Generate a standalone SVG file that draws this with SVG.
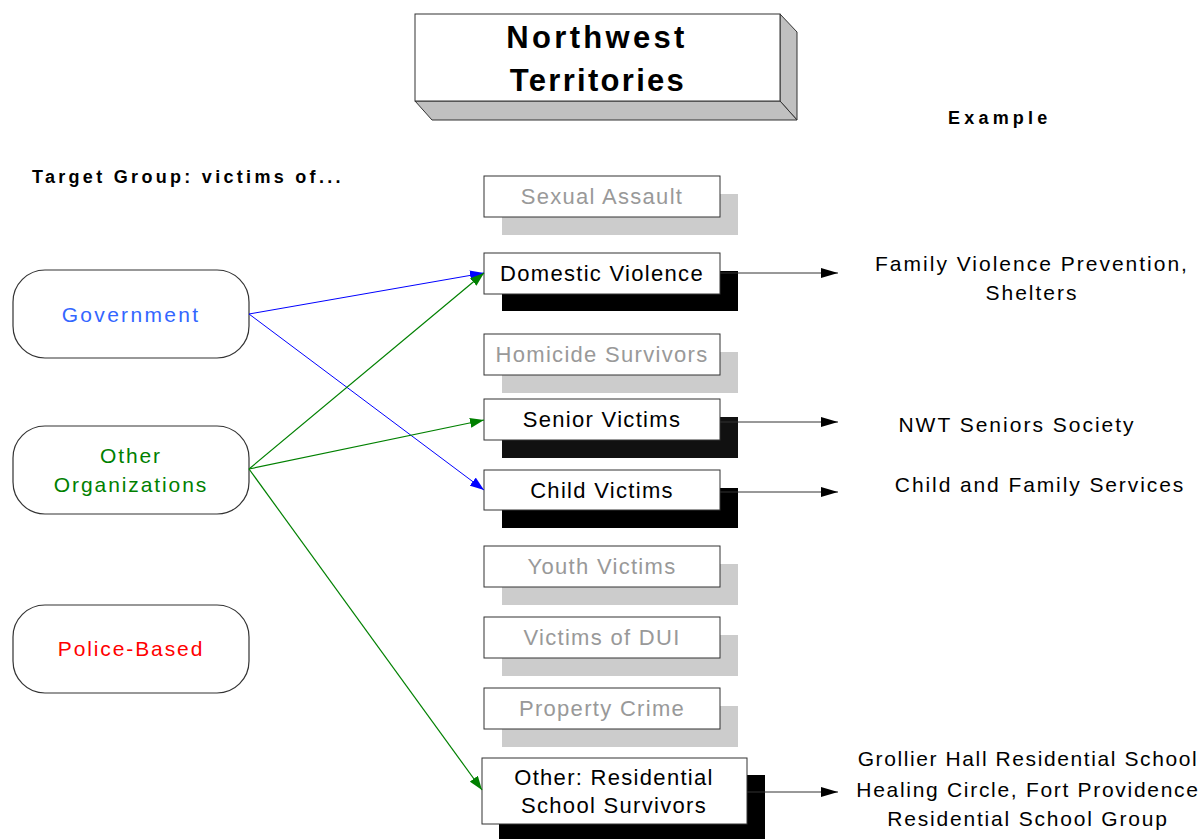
<svg xmlns="http://www.w3.org/2000/svg" width="1203" height="839" viewBox="0 0 1203 839">
  <style>
    text { font-family: "Liberation Sans", Arial, sans-serif; }
    .title { font-size: 31px; font-weight: bold; fill: #000; text-anchor: middle; }
    .head { font-size: 18px; font-weight: bold; fill: #000; letter-spacing: 3.3px; }
    .src { fill: #fff; stroke: #333; stroke-width: 1.2; }
    .srcText { font-size: 21px; text-anchor: middle; letter-spacing: 1.9px; }
    .box { fill: #fff; stroke: #333; stroke-width: 1; }
    .shGray { fill: #cccccc; }
    .shDark { fill: #000; }
    .lblGray { font-size: 22px; fill: #999; text-anchor: middle; letter-spacing: 1.3px; }
    .lbl { font-size: 22px; fill: #000; text-anchor: middle; letter-spacing: 1.3px; }
    .ex { font-size: 21px; fill: #000; text-anchor: middle; letter-spacing: 2px; }
    .blue { stroke: #0000ff; stroke-width: 1; fill: none; }
    .green { stroke: #008000; stroke-width: 1.2; fill: none; }
    .out { stroke: #333; stroke-width: 1; fill: none; }
  </style>
  <defs>
    <marker id="mBlue" viewBox="0 0 14 10" refX="14" refY="5" markerWidth="14" markerHeight="10" markerUnits="userSpaceOnUse" orient="auto">
      <path d="M0,0 L14,5 L0,10 z" fill="#0000ff"/>
    </marker>
    <marker id="mGreen" viewBox="0 0 14 10" refX="14" refY="5" markerWidth="14" markerHeight="10" markerUnits="userSpaceOnUse" orient="auto">
      <path d="M0,0 L14,5 L0,10 z" fill="#008000"/>
    </marker>
    <marker id="mBlack" viewBox="0 0 17 10" refX="17" refY="5" markerWidth="17" markerHeight="10" markerUnits="userSpaceOnUse" orient="auto">
      <path d="M0,0 L17,5 L0,10 z" fill="#000"/>
    </marker>
  </defs>
  <rect width="1203" height="839" fill="#fff"/>

  <!-- Title block (3D box) -->
  <g id="title">
    <polygon points="780,14 797,32 797,120 780,101" fill="#c0c0c0" stroke="#333" stroke-width="1"/>
    <polygon points="415,101 780,101 797,120 432,120" fill="#c0c0c0" stroke="#333" stroke-width="1"/>
    <rect x="415" y="14" width="365" height="87" fill="#fff" stroke="#333" stroke-width="1"/>
    <text class="title" x="597" y="48" style="letter-spacing:3.3px">Northwest</text>
    <text class="title" x="598" y="91" style="letter-spacing:2.3px">Territories</text>
  </g>

  <text class="head" x="32" y="183">Target Group: victims of...</text>
  <text class="head" x="948" y="124" style="letter-spacing:4.2px">Example</text>

  <!-- Source organisations -->
  <g id="government">
    <rect class="src" x="13" y="270" width="236" height="88" rx="32" ry="32"/>
    <text class="srcText" x="131" y="322" fill="#3366ff" style="letter-spacing:2.3px">Government</text>
  </g>
  <g id="other-organizations">
    <rect class="src" x="13" y="426" width="236" height="88" rx="32" ry="32"/>
    <text class="srcText" x="131" y="463" fill="#008000">Other</text>
    <text class="srcText" x="131" y="492" fill="#008000">Organizations</text>
  </g>
  <g id="police-based">
    <rect class="src" x="13" y="605" width="236" height="88" rx="32" ry="32"/>
    <text class="srcText" x="131" y="656" fill="#ff0000">Police-Based</text>
  </g>

  <!-- Target groups -->
  <g id="sexual-assault">
    <rect class="shGray" x="502" y="194" width="236" height="41"/>
    <rect class="box" x="484" y="176" width="236" height="41"/>
    <text class="lblGray" x="602" y="204">Sexual Assault</text>
  </g>
  <g id="domestic-violence">
    <rect class="shDark" x="502" y="271" width="236" height="40"/>
    <rect class="box" x="484" y="253" width="236" height="41"/>
    <text class="lbl" x="602" y="281">Domestic Violence</text>
  </g>
  <g id="homicide-survivors">
    <rect class="shGray" x="502" y="352" width="236" height="41"/>
    <rect class="box" x="484" y="334" width="236" height="41"/>
    <text class="lblGray" x="602" y="362">Homicide Survivors</text>
  </g>
  <g id="senior-victims">
    <rect x="502" y="417" width="236" height="41" fill="#111"/>
    <rect class="box" x="484" y="399" width="236" height="41"/>
    <text class="lbl" x="602" y="427">Senior Victims</text>
  </g>
  <g id="child-victims">
    <rect class="shDark" x="502" y="488" width="236" height="40"/>
    <rect class="box" x="484" y="470" width="236" height="40"/>
    <text class="lbl" x="602" y="498">Child Victims</text>
  </g>
  <g id="youth-victims">
    <rect class="shGray" x="502" y="564" width="236" height="41"/>
    <rect class="box" x="484" y="546" width="236" height="41"/>
    <text class="lblGray" x="602" y="574">Youth Victims</text>
  </g>
  <g id="victims-of-dui">
    <rect class="shGray" x="502" y="635" width="236" height="41"/>
    <rect class="box" x="484" y="617" width="236" height="41"/>
    <text class="lblGray" x="602" y="645">Victims of DUI</text>
  </g>
  <g id="property-crime">
    <rect class="shGray" x="502" y="706" width="236" height="41"/>
    <rect class="box" x="484" y="688" width="236" height="41"/>
    <text class="lblGray" x="602" y="716">Property Crime</text>
  </g>
  <g id="residential-school">
    <rect class="shDark" x="499" y="775" width="266" height="70"/>
    <rect class="box" x="482" y="758" width="265" height="66"/>
    <text class="lbl" x="614" y="785">Other: Residential</text>
    <text class="lbl" x="614" y="813">School Survivors</text>
  </g>

  <!-- Examples -->
  <g id="examples">
    <text class="ex" x="1032" y="271">Family Violence Prevention,</text>
    <text class="ex" x="1032" y="300">Shelters</text>
    <text class="ex" x="1017" y="432">NWT Seniors Society</text>
    <text class="ex" x="1040" y="492" style="letter-spacing:1.9px">Child and Family Services</text>
    <text class="ex" x="1028" y="766" style="letter-spacing:1.6px">Grollier Hall Residential School</text>
    <text class="ex" x="1028" y="797" style="letter-spacing:1.7px">Healing Circle, Fort Providence</text>
    <text class="ex" x="1028" y="826" style="letter-spacing:1.8px">Residential School Group</text>
  </g>

  <!-- Connectors -->
  <g id="connectors">
    <line class="blue" x1="249" y1="314" x2="484" y2="273" marker-end="url(#mBlue)"/>
    <line class="blue" x1="249" y1="314" x2="484" y2="490" marker-end="url(#mBlue)"/>
    <line class="green" x1="249" y1="469" x2="484" y2="273" marker-end="url(#mGreen)"/>
    <line class="green" x1="249" y1="469" x2="484" y2="420" marker-end="url(#mGreen)"/>
    <line class="green" x1="249" y1="469" x2="482" y2="790" marker-end="url(#mGreen)"/>
    <line class="out" x1="720" y1="273" x2="838" y2="273" marker-end="url(#mBlack)"/>
    <line class="out" x1="720" y1="422" x2="838" y2="422" marker-end="url(#mBlack)"/>
    <line class="out" x1="720" y1="492" x2="838" y2="492" marker-end="url(#mBlack)"/>
    <line class="out" x1="747" y1="792" x2="838" y2="792" marker-end="url(#mBlack)"/>
  </g>
</svg>
